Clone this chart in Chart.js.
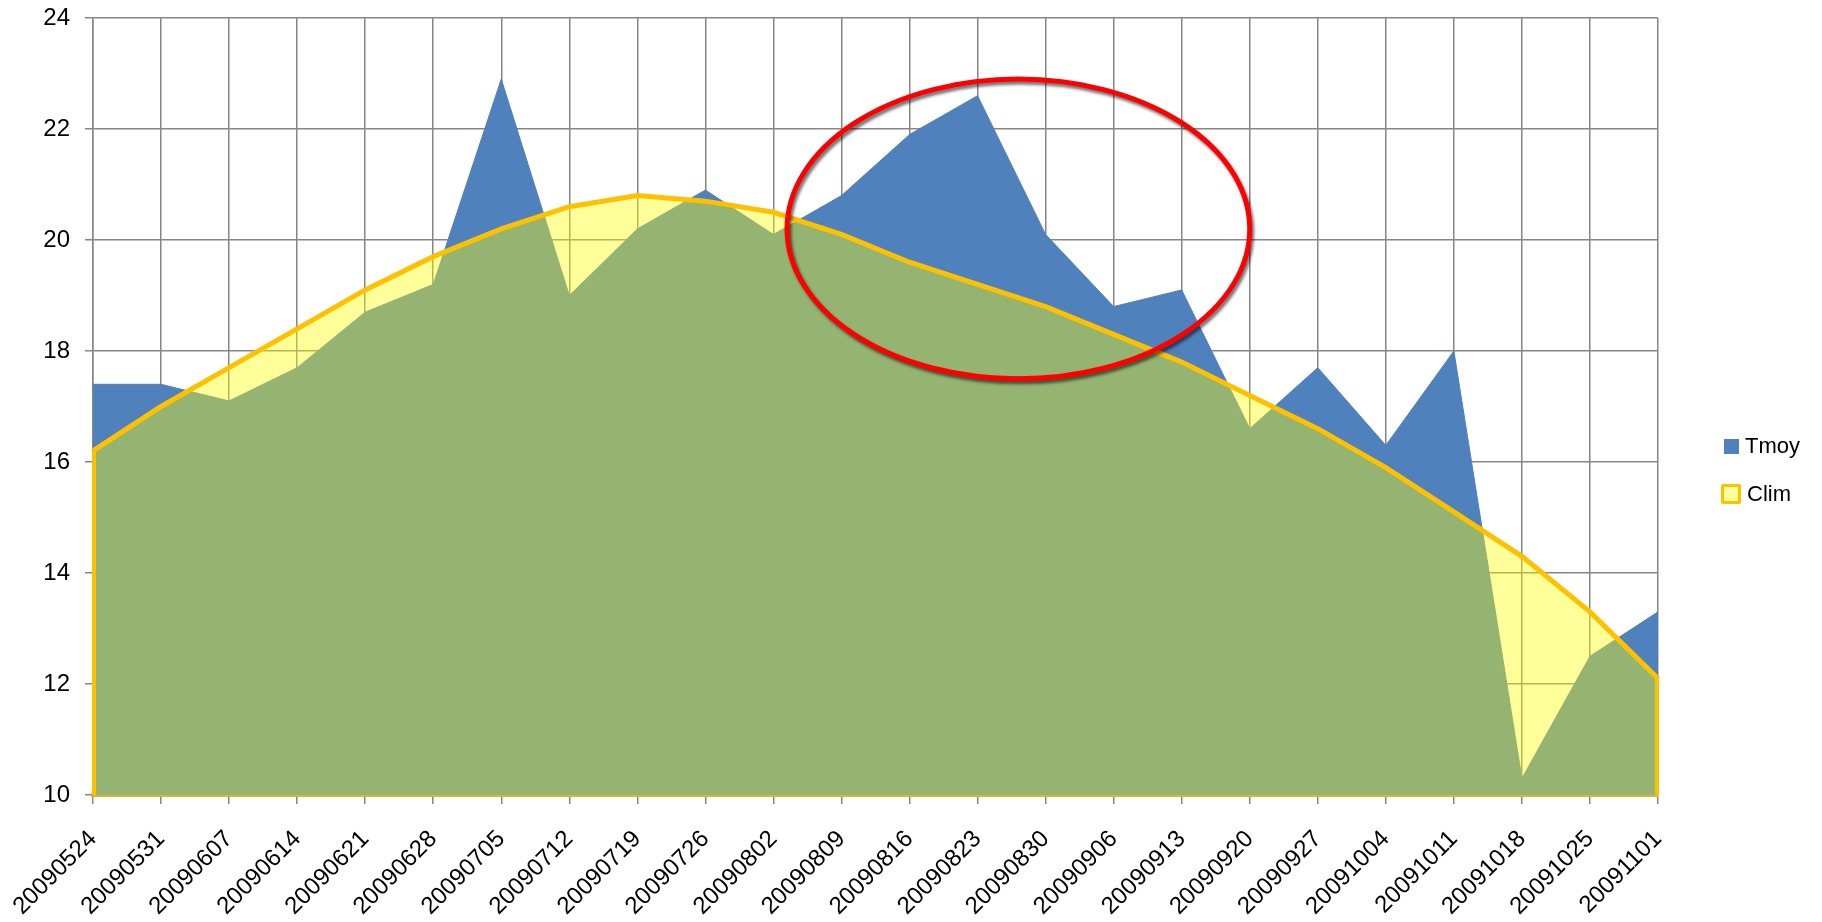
<!DOCTYPE html>
<html>
<head>
<meta charset="utf-8">
<title>Tmoy / Clim</title>
<script src="https://cdn.jsdelivr.net/npm/chart.js@4.4.0/dist/chart.umd.min.js"></script>
<style>
  body { margin: 0; background: #fff; }
  #wrap { position: relative; width: 1822px; height: 922px; }
  #legend { position: absolute; left: 1720px; top: 432px; font-family: 'Liberation Sans', Arial, sans-serif; font-size: 22px; color: #000; }
  .item { display: flex; align-items: center; height: 28px; margin-bottom: 20px; }
  .box { box-sizing: border-box; margin-right: 6px; }
  .b1 { width: 15px; height: 15px; background: #4F81BD; margin-left: 4px; }
  .b2 { width: 20px; height: 20px; background: #FFFF99; border: 3px solid #FFC000; margin-left: 1px; border-radius: 2px; }
</style>
</head>
<body>
<div id="wrap">
  <canvas id="chart" width="1822" height="922"></canvas>
  <div id="legend">
    <div class="item"><div class="box b1"></div>Tmoy</div>
    <div class="item"><div class="box b2"></div>Clim</div>
  </div>
</div>
<script>
// semaines
let labels = ['20090524', '20090531', '20090607', '20090614', '20090621', '20090628',
  '20090705', '20090712', '20090719', '20090726', '20090802', '20090809',
  '20090816', '20090823', '20090830', '20090906', '20090913', '20090920',
  '20090927', '20091004', '20091011', '20091018', '20091025', '20091101'];

// temperature moyenne
let tmoy = [17.4, 17.4, 17.1, 17.7, 18.7, 19.2, 22.9, 19.0, 20.2, 20.9, 20.1, 20.8,
  21.9, 22.6, 20.1, 18.8, 19.1, 16.6, 17.7, 16.3, 18.0, 10.3, 12.5, 13.3];

// climatologie
let clim = [16.2, 17.0, 17.7, 18.4, 19.1, 19.7, 20.2, 20.6, 20.8, 20.7, 20.5, 20.1,
  19.6, 19.2, 18.8, 18.3, 17.8, 17.2, 16.6, 15.9, 15.1, 14.3, 13.3, 12.1];

let yMin = 10;
let yMax = 24;
let yStep = 2;

// ellipse rouge (en unites du graphique)
let ring = { x: 13.6, y: 20.2, rx: 3.4, ry: 2.7 };

let climColor = '#FFC000';
let fontFamily = "'Liberation Sans', Arial, sans-serif";

// bords verticaux de la zone Clim
const climEdges = {
  id: 'climEdges',
  afterDatasetsDraw(chart) {
    let pts = chart.getDatasetMeta(0).data;
    let yb = chart.scales.y.getPixelForValue(yMin);
    let first = pts[0];
    let last = pts[pts.length - 1];
    let ctx = chart.ctx;
    ctx.save();
    ctx.strokeStyle = climColor;
    ctx.lineWidth = 4;
    ctx.beginPath();
    ctx.moveTo(first.x + 1, yb);
    ctx.lineTo(first.x + 1, first.y);
    ctx.moveTo(last.x - 1, last.y);
    ctx.lineTo(last.x - 1, yb);
    ctx.stroke();
    ctx.restore();
  }
};

const redRing = {
  id: 'redRing',
  afterDraw(chart) {
    let sx = chart.scales.x;
    let sy = chart.scales.y;
    let cx = sx.getPixelForValue(ring.x);
    let cy = sy.getPixelForValue(ring.y);
    let rx = sx.getPixelForValue(ring.x + ring.rx) - cx;
    let ry = cy - sy.getPixelForValue(ring.y + ring.ry);
    let ctx = chart.ctx;
    ctx.save();
    ctx.shadowColor = 'rgba(0,0,0,0.55)';
    ctx.shadowOffsetX = 2;
    ctx.shadowOffsetY = 3;
    ctx.shadowBlur = 3;
    ctx.strokeStyle = '#FF0000';
    ctx.lineWidth = 5;
    ctx.beginPath();
    ctx.ellipse(cx, cy, rx, ry, 0, 0, Math.PI * 2);
    ctx.stroke();
    ctx.restore();
  }
};

let context = document.querySelector('#chart').getContext('2d');
new Chart(context, {
  type: 'line',
  data: {
    labels: labels,
    datasets: [{
      label: 'Clim',
      data: clim,
      order: 0,
      borderColor: climColor,
      borderWidth: 5,
      backgroundColor: 'rgba(255,255,0,0.4)',
      fill: 'start',
      pointRadius: 0,
      tension: 0
    }, {
      label: 'Tmoy',
      data: tmoy,
      order: 1,
      borderColor: '#4F81BD',
      borderWidth: 1,
      backgroundColor: '#4F81BD',
      fill: 'start',
      pointRadius: 0,
      tension: 0
    }]
  },
  options: {
    responsive: false,
    animation: false,
    layout: { padding: { top: 18, right: 164, left: 0, bottom: 0 } },
    plugins: {
      legend: { display: false },
      tooltip: { enabled: false }
    },
    scales: {
      x: {
        afterFit: function (scale) {
          scale.height = 127;
          scale.paddingLeft = 0;
          scale.paddingRight = 0;
        },
        grid: { color: '#868686', lineWidth: 1.5, tickLength: 9 },
        border: { color: '#D9B53A', width: 4 },
        ticks: {
          color: '#000',
          font: { family: fontFamily, size: 24 },
          maxRotation: 45,
          minRotation: 45,
          autoSkip: false,
          padding: 21
        }
      },
      y: {
        min: yMin,
        max: yMax,
        afterFit: function (scale) {
          scale.width = 93;
          scale.paddingTop = 0;
          scale.paddingBottom = 0;
        },
        grid: { color: '#868686', lineWidth: 1.5, tickLength: 8 },
        border: { color: '#868686', width: 1.5 },
        ticks: {
          stepSize: yStep,
          color: '#000',
          font: { family: fontFamily, size: 24 },
          padding: 15
        }
      }
    }
  },
  plugins: [climEdges, redRing]
});
</script>
</body>
</html>
